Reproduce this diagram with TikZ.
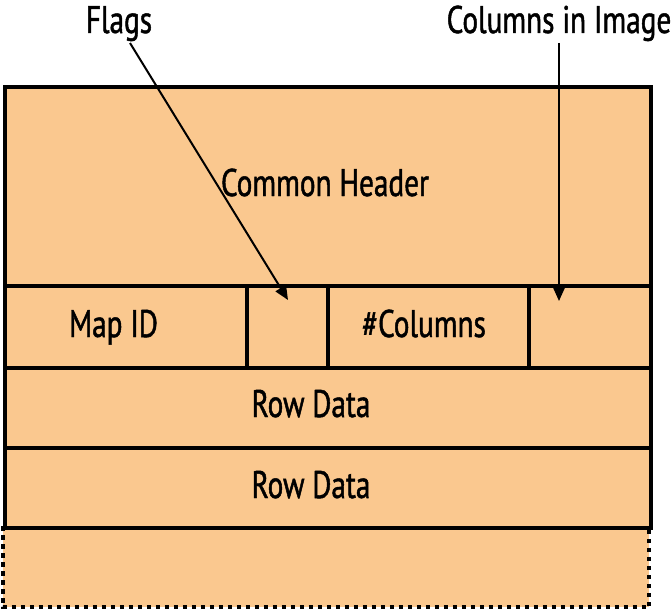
\documentclass[tikz,border=0pt]{standalone}
\usepackage{fontspec}
\setmainfont{PT Sans}[FakeStretch=0.76, FakeBold=1.2]
\usetikzlibrary{arrows.meta,calc}
\definecolor{cellfill}{RGB}{250,200,143}
\tikzset{
  cell/.style={draw=black, fill=cellfill, line width=4pt, inner sep=0pt, anchor=north west},
  tailcell/.style={fill=cellfill, inner sep=0pt, anchor=north west},
  lbl/.style={font=\fontsize{38.5}{40}\selectfont, inner sep=0pt, anchor=base},
  pointer/.style={line width=2pt, -{Triangle[length=14pt,width=12pt]}}
}
\begin{document}
\begin{tikzpicture}[x=1pt,y=-1pt]
\useasboundingbox (0,0) rectangle (671,610);
% tail (dashed) cell
\node[tailcell, minimum width=646pt, minimum height=81pt] (tail) at (3,526) {};
\draw[line width=4pt, dash pattern=on 4.5pt off 4.5pt] (tail.north west) -- (tail.south west) -- (tail.south east) -- (tail.north east);
% cells
\node[cell, minimum width=646pt, minimum height=199pt] (header) at (3,85) {};
\node[cell, minimum width=242pt, minimum height=82pt] (mapid) at (3,284) {};
\node[cell, minimum width=81pt, minimum height=82pt] (flagcell) at (245,284) {};
\node[cell, minimum width=201pt, minimum height=82pt] (colcell) at (326,284) {};
\node[cell, minimum width=122pt, minimum height=82pt] (imgcell) at (527,284) {};
\node[cell, minimum width=646pt, minimum height=80pt] (row1) at (3,366) {};
\node[cell, minimum width=646pt, minimum height=80pt] (row2) at (3,446) {};
% texts
\node[lbl] (hdrtext) at (325,196) {Common Header};
\node[lbl] (maptext) at (113.5,337) {Map ID};
\node[lbl] (coltext) at (424,337) {\#Columns};
\node[lbl] (row1text) at (311,417) {Row Data};
\node[lbl] (row2text) at (311,498) {Row Data};
\node[lbl] (flagslabel) at (119,33) {Flags};
\node[lbl] (imglabel) at (559,33) {Columns in Image};
% pointers
\coordinate (flagstart) at (130,43);
\coordinate (flagend) at (288,300);
\coordinate (imgstart) at (559,43);
\coordinate (imgend) at (559,301);
\draw[pointer] (flagstart) -- (flagend);
\draw[pointer] (imgstart) -- (imgend);
\end{tikzpicture}
\end{document}
